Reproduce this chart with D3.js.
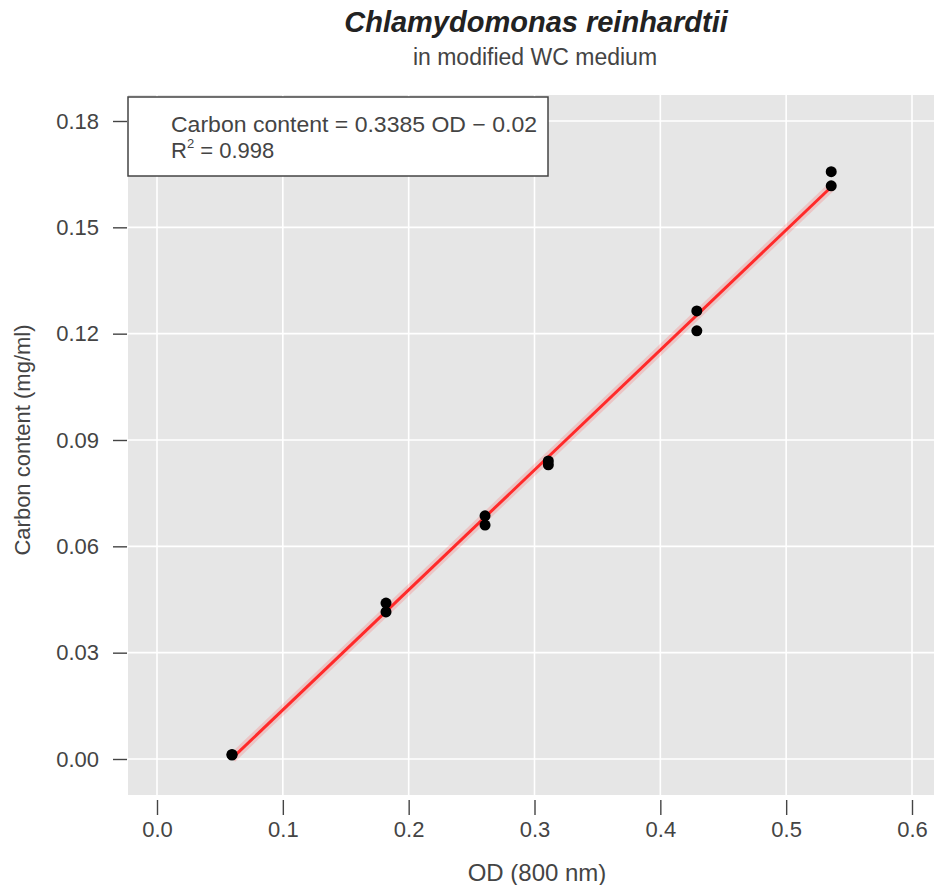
<!DOCTYPE html>
<html>
<head>
<meta charset="utf-8">
<script src="https://cdn.jsdelivr.net/npm/d3@7"></script>
<style>
  body { margin: 0; background: #fff; }
  text { font-family: "Liberation Sans", Arial, sans-serif; }
</style>
</head>
<body>
<div id="chart"></div>
<script>
// measured values
const odValues = [0.0596, 0.0596, 0.182, 0.182, 0.2607, 0.2607, 0.311, 0.311, 0.429, 0.429, 0.5358, 0.5358];
const carbonValues = [0.0011, 0.0013, 0.0440, 0.0415, 0.0686, 0.0660, 0.0841, 0.0830, 0.1264, 0.1208, 0.1657, 0.1617];
const xTicks = [0.0, 0.1, 0.2, 0.3, 0.4, 0.5, 0.6];
const yTicks = [0.00, 0.03, 0.06, 0.09, 0.12, 0.15, 0.18];
const slope = 0.3385;
const intercept = -0.02;
const fitRange = [0.0596, 0.5358];

const width = 934, height = 885;
const panel = { left: 128, right: 940, top: 95, bottom: 795 };

const x = d3.scaleLinear()
    .domain([0, 0.6])
    .range([157, 912]);
const y = d3.scaleLinear()
    .domain([0, 0.18])
    .range([759, 121]);

const svg = d3.select('#chart')
    .append('svg')
    .attr('width', width)
    .attr('height', height);

// panel background
svg.append('rect')
    .attr('x', panel.left)
    .attr('y', panel.top)
    .attr('width', panel.right - panel.left)
    .attr('height', panel.bottom - panel.top)
    .attr('fill', '#e6e6e6');

// grid
svg.append('g').selectAll('line')
    .data(xTicks)
    .join('line')
    .attr('x1', d => x(d)).attr('x2', d => x(d))
    .attr('y1', panel.top).attr('y2', panel.bottom)
    .attr('stroke', '#fff').attr('stroke-width', 1.6);
svg.append('g').selectAll('line')
    .data(yTicks)
    .join('line')
    .attr('x1', panel.left).attr('x2', panel.right)
    .attr('y1', d => y(d)).attr('y2', d => y(d))
    .attr('stroke', '#fff').attr('stroke-width', 1.6);

// axes (base-R style, ticks outside the panel)
let xAxis = d3.axisBottom(x)
    .tickValues(xTicks)
    .tickFormat(d3.format('.1f'))
    .tickSize(15)
    .tickPadding(6);
let gx = svg.append('g')
    .attr('transform', `translate(0,${panel.bottom + 5})`)
    .call(xAxis);
gx.select('.domain').remove();

let yAxis = d3.axisLeft(y)
    .tickValues(yTicks)
    .tickFormat(d3.format('.2f'))
    .tickSize(14)
    .tickPadding(14);
let gy = svg.append('g')
    .attr('transform', `translate(${panel.left - 1},0)`)
    .call(yAxis);
gy.select('.domain').remove();

svg.selectAll('.tick line').attr('stroke', '#444').attr('stroke-width', 1.4);
svg.selectAll('.tick text')
    .attr('font-size', 22)
    .attr('fill', '#444')
    .attr('font-family', '"Liberation Sans", Arial, sans-serif');

// fit line with faint band
let line = d3.line()
    .x(d => x(d))
    .y(d => y(slope * d + intercept));

svg.append('path')
    .attr('d', line(fitRange))
    .attr('stroke', 'rgba(255,80,80,0.22)')
    .attr('stroke-width', 9)
    .attr('fill', 'none');
svg.append('path')
    .attr('d', line(fitRange))
    .attr('stroke', '#ff2a2a')
    .attr('stroke-width', 3)
    .attr('fill', 'none');

// points
svg.append('g').selectAll('circle')
    .data(odValues.map((v, i) => ({ x: v, y: carbonValues[i] })))
    .join('circle')
    .attr('cx', d => x(d.x))
    .attr('cy', d => y(d.y))
    .attr('r', 5.5)
    .attr('fill', '#000');

// legend box
let lg = svg.append('g');
lg.append('rect')
    .attr('x', 128).attr('y', 97)
    .attr('width', 420).attr('height', 79)
    .attr('fill', '#fff')
    .attr('stroke', '#444').attr('stroke-width', 1.5);
lg.append('text')
    .attr('x', 171).attr('y', 132)
    .attr('font-size', 22)
    .attr('fill', '#444')
    .attr('textLength', 366)
    .attr('lengthAdjust', 'spacingAndGlyphs')
    .text('Carbon content = 0.3385 OD \u2212 0.02');
let r2 = lg.append('text')
    .attr('x', 171).attr('y', 158)
    .attr('font-size', 22)
    .attr('fill', '#444');
r2.append('tspan').text('R');
r2.append('tspan').attr('dy', -10).attr('font-size', 13).text('2');
r2.append('tspan').attr('dy', 10).text(' = 0.998');

// titles
svg.append('text')
    .attr('x', 536).attr('y', 32)
    .attr('text-anchor', 'middle')
    .attr('font-size', 29)
    .attr('font-weight', 'bold')
    .attr('font-style', 'italic')
    .attr('fill', '#222')
    .text('Chlamydomonas reinhardtii');
svg.append('text')
    .attr('x', 535).attr('y', 65)
    .attr('text-anchor', 'middle')
    .attr('font-size', 23)
    .attr('fill', '#444')
    .text('in modified WC medium');

svg.append('text')
    .attr('x', 537).attr('y', 881)
    .attr('text-anchor', 'middle')
    .attr('font-size', 24)
    .attr('fill', '#444')
    .text('OD (800 nm)');
svg.append('text')
    .attr('transform', 'translate(30,440) rotate(-90)')
    .attr('text-anchor', 'middle')
    .attr('font-size', 22)
    .attr('fill', '#444')
    .text('Carbon content (mg/ml)');
</script>
</body>
</html>
